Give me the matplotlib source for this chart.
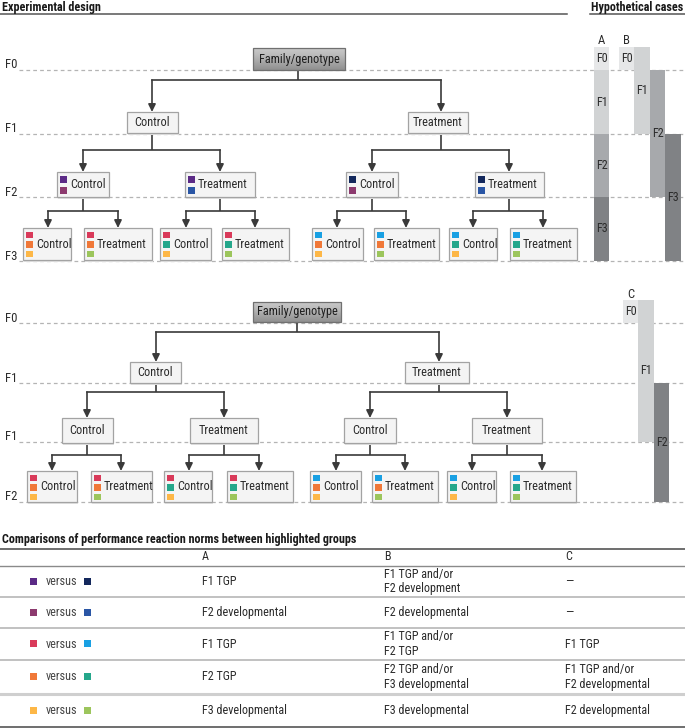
import matplotlib
matplotlib.use('Agg')
import matplotlib.pyplot as plt
from matplotlib.patches import Rectangle
from matplotlib import font_manager as fm
import numpy as np

# ---------------- data ----------------
title_design = "Experimental design"
title_cases = "Hypothetical cases"
title_table = "Comparisons of performance reaction norms between highlighted groups"

root_label = "Family/genotype"
treat_labels = ["Control", "Treatment"]
gen_labels_top = ["F0", "F1", "F2", "F3"]
gen_labels_bottom = ["F0", "F1", "F1", "F2"]

PURPLE, PLUM, NAVY, BLUE = '#5b2a86', '#8c3a6e', '#13285c', '#2a56a5'
RED, SKY = '#d93a5a', '#19a0e3'
ORANGE, TEAL = '#f07838', '#25a78b'
YELLOW, GREEN = '#fdb747', '#9cc55c'

top_f2_colors = [[PURPLE, PLUM], [PURPLE, BLUE], [NAVY, PLUM], [NAVY, BLUE]]
leaf_colors = [[RED, ORANGE, YELLOW], [RED, ORANGE, GREEN], [RED, TEAL, YELLOW], [RED, TEAL, GREEN],
               [SKY, ORANGE, YELLOW], [SKY, ORANGE, GREEN], [SKY, TEAL, YELLOW], [SKY, TEAL, GREEN]]

shades = ['#e6e7e8', '#d1d3d4', '#a7a9ac', '#808285']
# hypothetical cases: (label, column, start generation, end generation, shade index)
case_names = ["A", "B", "C"]
case_A = [("F0", 0, -1, 0, 0), ("F1", 0, 0, 1, 1), ("F2", 0, 1, 2, 2), ("F3", 0, 2, 3, 3)]
case_B = [("F0", 0, -1, 0, 0), ("F1", 1, -1, 1, 1), ("F2", 2, 0, 2, 2), ("F3", 3, 1, 3, 3)]
case_C = [("F0", 0, -1, 0, 0), ("F1", 1, -1, 2, 1), ("F2", 2, 1, 3, 3)]

cmp_left = [PURPLE, PLUM, RED, ORANGE, YELLOW]
cmp_right = [NAVY, BLUE, SKY, TEAL, GREEN]
table_header = ["A", "B", "C"]
col_A = ["F1 TGP", "F2 developmental", "F1 TGP", "F2 TGP", "F3 developmental"]
col_B = ["F1 TGP and/or\nF2 development", "F2 developmental", "F1 TGP and/or\nF2 TGP",
         "F2 TGP and/or\nF3 developmental", "F3 developmental"]
col_C = ["\u2014", "\u2014", "F1 TGP", "F1 TGP and/or\nF2 developmental", "F2 developmental"]

# ---------------- fonts ----------------
avail = {f.name for f in fm.fontManager.ttflist}
FONT = 'DejaVu Sans'
for cand in ['Liberation Sans Narrow', 'Roboto Condensed', 'Arial Narrow', 'Liberation Sans']:
    if cand in avail:
        FONT = cand
        break
plt.rcParams['font.family'] = [FONT, 'DejaVu Sans']

# ---------------- layout ----------------
W, H = 685, 728
fig = plt.figure(figsize=(W / 100, H / 100), dpi=100)
ax = fig.add_axes([0, 0, 1, 1])
ax.set_xlim(0, W)
ax.set_ylim(H, 0)
ax.axis('off')
renderer = fig.canvas.get_renderer()


def text_w(s, size, weight='normal'):
    t = fig.text(0, 0, s, fontsize=size, fontweight=weight)
    w = t.get_window_extent(renderer=renderer).width
    t.remove()
    return w


FS_BOX = 10 * 0.5 * (49 / text_w('Treatment', 10) + 81 / text_w('Family/genotype', 10))
FS_TAB = 10 * 84 / text_w('F2 developmental', 10)
FS_TITLE = 10 * 355 / text_w(title_table, 10, 'bold')

TXT = '#2b2b2b'
LINE = '#3a3a3a'

TOP = dict(
    gen_y=[70, 134, 197, 261],
    rows=[(48, 70), (112, 133), (172, 197), (228, 260)],
    xs=[[(253, 345)], [(127, 178), (408, 468)],
        [(57, 109), (185, 255), (346, 398), (475, 544)],
        [(23, 71), (84, 152), (160, 211), (222, 289), (312, 363), (374, 439), (449, 497), (510, 577)]],
    node_x=[[298], [152, 441], [83, 220, 372, 509], [48, 118, 186, 255, 337, 406, 473, 543]],
    mids=[80, 150, 211],
    squares={2: top_f2_colors, 3: leaf_colors},
    gens=gen_labels_top,
)
BOTTOM = dict(
    gen_y=[323, 383, 442, 502],
    rows=[(302, 322), (362, 383), (418, 443), (471, 502)],
    xs=[[(253, 341)], [(130, 181), (405, 469)],
        [(62, 113), (190, 258), (344, 396), (472, 542)],
        [(27, 77), (91, 152), (164, 212), (227, 293), (310, 361), (372, 438), (447, 496), (510, 576)]],
    node_x=[[297], [156, 439], [87, 224, 370, 507], [52, 121, 189, 259, 336, 405, 472, 542]],
    mids=[332, 392, 455],
    squares={3: leaf_colors},
    gens=gen_labels_bottom,
)


def draw_tree(T):
    for gy, gl in zip(T['gen_y'], T['gens']):
        ax.plot([19, W], [gy, gy], color='#b4b4b4', lw=0.9, dashes=(3, 2.5), zorder=1)
        ax.text(5, gy + 1.5, gl, fontsize=FS_TAB * 1.05, color=TXT, ha='left', va='bottom')
    for L in range(1, 4):
        py1 = T['rows'][L - 1][1]
        cy0 = T['rows'][L][0]
        mid = T['mids'][L - 1]
        for p, pcx in enumerate(T['node_x'][L - 1]):
            kcx = T['node_x'][L][2 * p:2 * p + 2]
            ax.plot([pcx, pcx], [py1, mid], color=LINE, lw=1.2, zorder=2, solid_capstyle='butt')
            ax.plot([kcx[0], kcx[1]], [mid, mid], color=LINE, lw=1.2, zorder=2, solid_capstyle='projecting')
            for kx in kcx:
                ax.annotate('', xy=(kx, cy0), xytext=(kx, mid),
                            arrowprops=dict(arrowstyle='-|>,head_length=0.45,head_width=0.22',
                                            color=LINE, lw=1.2, shrinkA=0, shrinkB=0), zorder=2)
    for L in range(4):
        y0, y1 = T['rows'][L]
        for i, (x0, x1) in enumerate(T['xs'][L]):
            if L == 0:
                grad = np.linspace(0, 1, 50).reshape(-1, 1)
                ax.imshow(grad, extent=(x0, x1, y1, y0), cmap='Greys', vmin=-1.6, vmax=3.4,
                          aspect='auto', zorder=3, origin='upper')
                ax.add_patch(Rectangle((x0, y0), x1 - x0, y1 - y0, fill=False, ec='#707070', lw=0.9, zorder=4))
                ax.text((x0 + x1) / 2, (y0 + y1) / 2, root_label, fontsize=FS_BOX, color='#1e1e1e',
                        ha='center', va='center', zorder=5)
                continue
            ax.add_patch(Rectangle((x0 + 1.5, y0 + 1.5), x1 - x0, y1 - y0, fc='#e2e2e2', ec='none', zorder=2.8))
            ax.add_patch(Rectangle((x0, y0), x1 - x0, y1 - y0, fc='#f4f4f4', ec='#a3a3a3', lw=0.9, zorder=3))
            label = treat_labels[i % 2]
            sq = T['squares'].get(L)
            if sq is None:
                ax.text((x0 + x1) / 2, (y0 + y1) / 2, label, fontsize=FS_BOX, color=TXT,
                        ha='center', va='center', zorder=5)
            else:
                cols = sq[i]
                n = len(cols)
                size = 7 if n == 2 else 6.5
                pitch = 11 if n == 2 else 9.5
                top = y0 + 4 if n == 2 else y0 + 3.5
                for k, c in enumerate(cols):
                    ax.add_patch(Rectangle((x0 + 3.5, top + k * pitch), size, size, fc=c, ec='none', zorder=4))
                ax.text(x0 + 13, (y0 + y1) / 2, label, fontsize=FS_BOX, color=TXT,
                        ha='left', va='center', zorder=5)


draw_tree(TOP)
draw_tree(BOTTOM)


def draw_case(name, segs, gen_y, col_x, label_y):
    step = 23

    def gy(g):
        return gen_y[0] - step if g < 0 else gen_y[int(g)]
    cw = 15.5
    for lab, col, g0, g1, sh in segs:
        x = col_x[col]
        y0, y1 = gy(g0), gy(g1)
        ax.add_patch(Rectangle((x, y0), cw, y1 - y0, fc=shades[sh], ec='none', zorder=2))
        ax.text(x + cw / 2, (y0 + y1) / 2, lab, fontsize=FS_TAB, color=TXT, ha='center', va='center', zorder=3)
    ax.text(col_x[0] + cw / 2, label_y, name, fontsize=FS_TAB * 1.05, color=TXT, ha='center', va='center')


draw_case(case_names[0], case_A, TOP['gen_y'], [594], 40)
draw_case(case_names[1], case_B, TOP['gen_y'], [619, 634.5, 650, 665.5], 40)
draw_case(case_names[2], case_C, BOTTOM['gen_y'], [623, 638.5, 654], 294)

# titles
ax.text(2, 7, title_design, fontsize=FS_TITLE, fontweight='bold', color='#1a1a1a', ha='left', va='center')
ax.plot([0, 567], [14, 14], color='#555555', lw=1.1)
ax.text(W - 2, 7, title_cases, fontsize=FS_TITLE, fontweight='bold', color='#1a1a1a', ha='right', va='center')
ax.plot([590, W], [14, 14], color='#555555', lw=1.1)

# table
ax.text(2, 539, title_table, fontsize=FS_TITLE, fontweight='bold', color='#1a1a1a', ha='left', va='center')
ax.plot([0, W], [549, 549], color='#555555', lw=1.2)
col_x = [202, 384, 565]
for cx, h in zip(col_x, table_header):
    ax.text(cx, 557, h, fontsize=FS_TAB, color=TXT, ha='left', va='center')
row_lines = [566, 597, 628, 660, 694, 727]
for k, yl in enumerate(row_lines):
    if k == len(row_lines) - 1:
        ax.plot([0, W], [yl, yl], color='#555555', lw=1.2)
    elif k == 4:
        ax.plot([0, W], [yl, yl], color='#cfcfcf', lw=2.2)
    elif k == 0:
        ax.plot([0, W], [yl, yl], color='#8a8a8a', lw=1.0)
    else:
        ax.plot([0, W], [yl, yl], color='#b0b0b0', lw=1.1)
for r in range(5):
    yc = (row_lines[r] + row_lines[r + 1]) / 2
    ax.add_patch(Rectangle((30, yc - 4), 7, 7, fc=cmp_left[r], ec='none'))
    ax.text(46, yc, "versus", fontsize=FS_TAB, color='#444444', ha='left', va='center')
    ax.add_patch(Rectangle((84, yc - 4), 7, 7, fc=cmp_right[r], ec='none'))
    for cx, col in zip(col_x, [col_A, col_B, col_C]):
        ax.text(cx, yc, col[r], fontsize=FS_TAB, color=TXT, ha='left', va='center', linespacing=1.15)

ax.set_xlim(0, W)
ax.set_ylim(H, 0)
fig.savefig('out.png', dpi=100)
